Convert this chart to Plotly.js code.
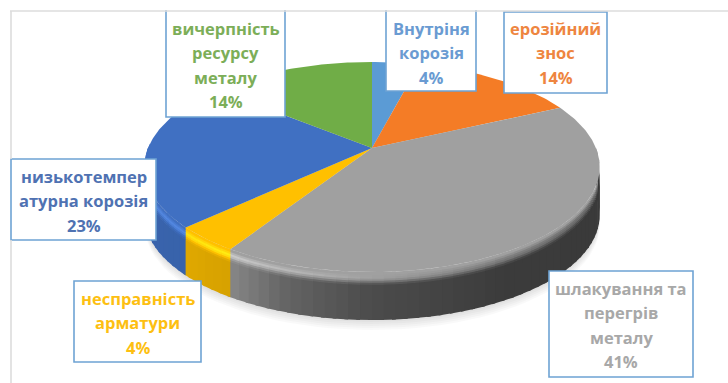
<!DOCTYPE html>
<html>
<head>
<meta charset="utf-8">
<script src="https://cdn.plot.ly/plotly-3.0.1.min.js"></script>
<style>html,body{margin:0;padding:0;background:#fff}#chart{width:728px;height:383px}</style>
</head>
<body>
<div id="chart"></div>
<script>
// Failure causes, clockwise from twelve o'clock
const categories = ['Внутріня|корозія', 'ерозійний|знос', 'шлакування та|перегрів|металу',
                    'несправність|арматури', 'низькотемпер|атурна корозія', 'вичерпність|ресурсу|металу'];
const values = [4, 14, 41, 4, 23, 14];
const colors = ['#5b9bd5', '#f47c26', '#a0a0a0', '#ffc000', '#4070c2', '#70ad47'];
const textColors = ['#6a9bd2', '#ee8540', '#a8a8a8', '#fdbf12', '#4f72b2', '#7cae58'];

// Label boxes: left, right, top, bottom and first text line centre
const boxes = [
  [386, 476, -5, 91, 28],
  [504, 607, 12, 93, 28],
  [549, 693, 271, 377, 288],
  [74, 201, 281, 362, 298],
  [11, 156, 159, 240, 176],
  [166, 285, -5, 117, 28]
];
const lineStep = 24.6;

// Tilted disc projection
const cx = 372, cy = 148, A = 224, B = 101.6, K = 0.181, DEPTH = 48;
function rim(deg, down) {
  const t = deg * Math.PI / 180, u = Math.sin(t), v = Math.cos(t), d = 1 + K * v;
  return [cx + A * u / d, cy - B * v / d + (down || 0)];
}

// Side brightness around the front of the disc: [angle, wall factor, edge highlight]
const lightStops = [[80, .36, .62], [110, .36, .66], [150, .37, .8], [180, .47, 1.0],
                    [198, .62, 1.08], [212, .84, 1.14], [228, .88, 1.1], [272, .9, 1.05]];
function light(deg) {
  for (let i = 1; i < lightStops.length; i++) {
    const a = lightStops[i - 1], b = lightStops[i];
    if (deg <= b[0]) {
      const f = (deg - a[0]) / (b[0] - a[0]);
      return [a[1] + (b[1] - a[1]) * f, a[2] + (b[2] - a[2]) * f];
    }
  }
  return lightStops[lightStops.length - 1].slice(1);
}
const rgb = h => [1, 3, 5].map(i => parseInt(h.substr(i, 2), 16));
const hex = c => '#' + c.map(x => Math.max(0, Math.min(255, Math.round(x))).toString(16).padStart(2, '0')).join('');

// Cumulative slice limits in degrees
const total = values.reduce((a, b) => a + b, 0);
const limits = [0];
values.forEach(v => limits.push(limits[limits.length - 1] + v / total * 360));
const sliceAt = deg => { for (let i = 0; i < values.length; i++) if (deg < limits[i + 1]) return i; return values.length - 1; };

const traces = [];
const poly = (x, y, color) => traces.push({
  x, y, type: 'scatter', mode: 'lines', fill: 'toself', fillcolor: color,
  line: {color: color, width: 0}, hoverinfo: 'skip', showlegend: false
});

// Soft drop shadow under the disc
[10, 8, 6, 4, 2].forEach(extra => {
  const xs = [], ys = [];
  for (let d = 0; d <= 360; d += 3) { const p = rim(d, DEPTH + extra); xs.push(p[0]); ys.push(p[1]); }
  poly(xs, ys, 'rgba(0,0,0,0.022)');
});

// Side wall and rounded edge: overlapping strips painted left to right, bottom band first
const BEVEL = 12, BAND = 2, STEP = 2.5, OVER = 0.8;
const bands = [[BEVEL, DEPTH]];
for (let z = BEVEL - BAND; z >= 0; z -= BAND) bands.push([z, z + BAND]);
function edgeGain(L, z) {
  const peak = 4;
  if (z < peak) return 1 + (L[1] - 1) * z / peak;
  const t = Math.min(1, (z - peak) / (BEVEL - peak));
  return L[1] + (L[0] - L[1]) * t * t * (3 - 2 * t);
}
for (let d = 90; d < 270; ) {
  let end = d + STEP;
  const cut = limits.find(l => l > d + 1e-6 && l < end);
  if (cut) end = cut;
  const s = sliceAt(d + 1e-6), base = rgb(colors[s]), L = light((d + end) / 2);
  bands.forEach(b => {
    const gain = edgeGain(L, b[0]);
    const c = hex(base.map(x => x * gain + (gain > 1 ? (gain - 1) * 130 : 0)));
    const low = b[1] === DEPTH ? DEPTH : b[1] + 0.8;
    const pts = [rim(d, b[0]), rim(end + OVER, b[0]), rim(end + OVER, low), rim(d, low)];
    poly(pts.map(p => p[0]).concat(pts[0][0]), pts.map(p => p[1]).concat(pts[0][1]), c);
  });
  d = end;
}

// Top face slices meeting at the projected disc centre
values.forEach((v, i) => {
  const xs = [cx], ys = [cy];
  for (let d = limits[i]; d < limits[i + 1]; d += 1) { const p = rim(d); xs.push(p[0]); ys.push(p[1]); }
  const p = rim(limits[i + 1]); xs.push(p[0], cx); ys.push(p[1], cy);
  poly(xs, ys, colors[i]);
});

// Frame and label boxes
const shapes = boxes.map(b => ({
  type: 'rect', xref: 'x', yref: 'y', x0: b[0], x1: b[1], y0: b[2], y1: b[3],
  fillcolor: '#ffffff', line: {color: '#6ea3d4', width: 1.6}
}));
shapes.push({type: 'rect', xref: 'x', yref: 'y', x0: -2, x1: 730, y0: -8, y1: 10, fillcolor: '#ffffff', line: {width: 0}});
shapes.push({type: 'line', xref: 'x', yref: 'y', x0: 10, x1: 728, y0: 11, y1: 11, line: {color: '#dcdcdc', width: 1.6}});
shapes.push({type: 'line', xref: 'x', yref: 'y', x0: 11, x1: 11, y0: 11, y1: 159, line: {color: '#dcdcdc', width: 1.6}});
shapes.push({type: 'line', xref: 'x', yref: 'y', x0: 11, x1: 11, y0: 240, y1: 383, line: {color: '#dcdcdc', width: 1.6}});

// Each label: name lines, then the share
const annotations = [];
categories.forEach((cat, i) => {
  const b = boxes[i];
  cat.split('|').concat([values[i] + '%']).forEach((line, n) => annotations.push({
    xref: 'x', yref: 'y', x: (b[0] + b[1]) / 2, y: b[4] + n * lineStep, text: line,
    showarrow: false, xanchor: 'center', yanchor: 'middle',
    font: {family: '"Open Sans", "Noto Sans", sans-serif', size: 16.5, color: textColors[i], weight: 700}
  }));
});

Plotly.newPlot('chart', traces, {
  width: 728, height: 383, margin: {l: 0, r: 0, t: 0, b: 0},
  paper_bgcolor: '#ffffff', plot_bgcolor: '#ffffff',
  xaxis: {range: [0, 728], visible: false, fixedrange: true},
  yaxis: {range: [383, 0], visible: false, fixedrange: true},
  shapes, annotations, showlegend: false
}, {displayModeBar: false, staticPlot: true});
</script>
</body>
</html>
